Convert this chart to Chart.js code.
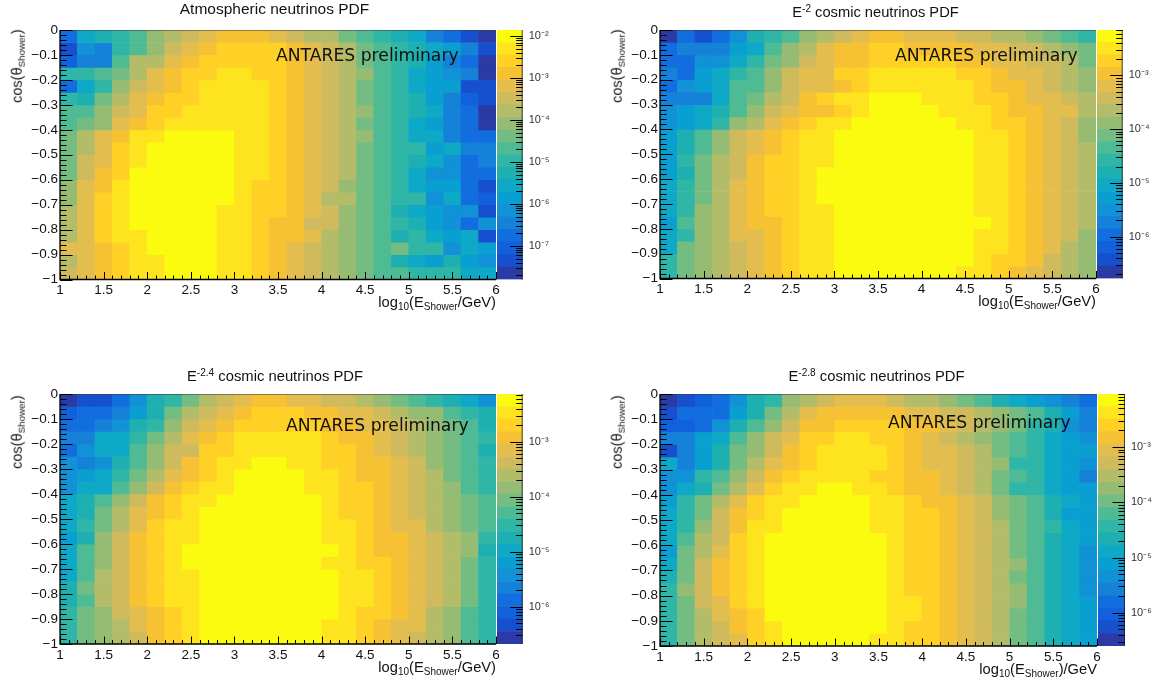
<!DOCTYPE html>
<html><head><meta charset="utf-8">
<script src="https://cdn.jsdelivr.net/npm/chart.js@4"></script>
<style>
html,body{margin:0;padding:0;background:#fff;overflow:hidden}
#page{position:relative;width:1158px;height:686px;font-family:"Liberation Sans",sans-serif;color:#111}
canvas{position:absolute}
.t{position:absolute;white-space:nowrap;line-height:1}
.s{font-size:.68em;vertical-align:-.32em;line-height:0}
.p{font-size:.68em;vertical-align:.5em;line-height:0}
.ant{font-family:"DejaVu Sans",sans-serif;font-size:17.2px;color:#111}
</style></head><body><div id="page"></div>
<script>
// Bin centres and top edges of the 25 x 20 histograms
const energyCentres=[1.1,1.3,1.5,1.7,1.9,2.1,2.3,2.5,2.7,2.9,3.1,3.3,3.5,3.7,3.9,4.1,4.3,4.5,4.7,4.9,5.1,5.3,5.5,5.7,5.9];
const cosTopEdges=[0,-0.05,-0.1,-0.15,-0.2,-0.25,-0.3,-0.35,-0.4,-0.45,-0.5,-0.55,-0.6,-0.65,-0.7,-0.75,-0.8,-0.85,-0.9,-0.95];
const cosBinWidth=0.05;
// Tick labels
const xTickValues=[1,1.5,2,2.5,3,3.5,4,4.5,5,5.5,6];
const yTickValues=[0,-0.1,-0.2,-0.3,-0.4,-0.5,-0.6,-0.7,-0.8,-0.9,-1];
// Colour bands, lowest to highest
const palette=['#2a3ba6','#1650ce','#1161dd','#126ede','#1681d8','#1191d6','#0a9fd1','#0da9c6','#1eb0b0','#2fb6a7','#4fbb95','#74bd82','#96bc74','#b3bc68','#cfbb5d','#e3be4f','#f6c133','#ffd026','#fde41f','#fbfb0f'];
// log10 colour-bar ranges [bottom, top] and decade labels
const zRangeAtm=[-7.8,-1.857], zRangeE20=[-6.78,-2.154], zRangeE24=[-6.68,-2.13], zRangeE28=[-6.6,-2.04];
const decadesAtm=[-2,-3,-4,-5,-6,-7], decadesE20=[-3,-4,-5,-6], decadesE24=[-3,-4,-5,-6], decadesE28=[-3,-4,-5,-6];
// Colour band read for every cell; rows run from cos=0 down to cos=-1, columns from log10E=1 to 6
const atmBands=[
[3,7,8,9,10,12,13,14,15,16,16,16,15,14,13,13,11,10,9,8,7,4,3,1,0],
[1,5,4,9,10,12,14,15,16,17,17,17,17,16,15,14,13,11,10,9,8,7,6,4,1],
[2,4,4,10,13,13,15,16,17,17,17,17,17,16,15,14,13,11,10,9,8,6,4,3,0],
[9,9,10,11,13,15,16,17,17,18,18,17,17,16,15,14,13,12,10,9,7,6,5,4,0],
[3,7,9,12,14,15,16,17,18,18,18,18,17,16,15,14,13,11,10,9,7,6,6,1,1],
[9,8,11,13,15,16,17,17,18,18,18,18,17,16,15,14,13,11,10,9,8,6,4,2,1],
[10,10,12,14,15,17,17,18,18,18,18,18,17,16,15,14,13,12,10,9,8,7,4,3,0],
[10,11,12,15,16,17,18,18,18,18,18,18,17,16,15,14,13,11,10,9,7,6,4,3,0],
[11,13,15,16,18,18,19,19,19,19,18,18,17,16,15,14,13,12,10,9,7,7,4,3,3],
[11,13,15,17,18,19,19,19,19,19,18,18,17,16,15,14,13,11,10,9,9,6,7,4,4],
[11,14,15,17,18,19,19,19,19,19,18,18,17,16,15,14,13,11,10,9,8,7,5,3,4],
[11,14,16,17,19,19,19,19,19,19,18,18,17,16,15,14,13,11,10,9,7,5,5,3,3],
[12,15,16,18,19,19,19,19,19,19,18,17,17,16,15,14,12,11,10,9,7,6,6,3,1],
[12,15,17,18,19,19,19,19,19,19,18,17,17,16,15,13,13,11,10,9,9,5,7,3,2],
[13,15,17,18,19,19,19,19,19,18,18,17,17,16,15,14,12,11,10,8,7,6,5,5,1],
[13,15,17,18,19,19,19,19,19,18,18,17,16,16,14,14,12,11,10,9,8,6,5,3,5],
[13,15,17,18,18,19,19,19,19,18,18,17,16,16,15,13,12,11,10,8,9,7,6,7,1],
[15,15,16,17,18,19,19,19,19,18,18,17,16,15,14,13,12,11,10,11,9,9,5,7,6],
[13,15,16,17,18,18,19,19,19,18,18,17,16,15,14,13,12,11,10,8,7,6,8,6,5],
[14,15,16,17,18,18,19,19,19,18,18,17,16,15,14,13,12,11,10,10,9,9,9,7,7]];
const e20Bands=[
[0,3,1,3,5,8,9,10,12,13,14,15,16,16,15,15,15,14,14,13,13,12,11,10,9],
[3,4,4,4,6,7,10,12,13,15,16,16,17,17,16,16,16,16,15,15,14,14,13,12,11],
[3,3,5,5,7,9,11,12,14,15,16,16,17,17,17,17,17,16,16,15,15,14,14,13,11],
[4,3,6,7,9,10,12,14,15,15,17,17,18,18,18,18,18,17,17,16,15,15,14,13,12],
[3,5,6,7,10,10,12,14,15,15,16,17,18,18,18,18,18,18,17,16,16,15,14,13,12],
[4,4,4,7,10,11,13,14,16,17,18,18,19,19,19,18,18,18,17,17,16,15,15,14,13],
[5,6,7,8,10,12,14,15,16,16,17,18,19,19,19,19,18,18,18,17,16,16,15,15,13],
[5,6,7,9,12,13,15,16,17,18,18,19,19,19,19,19,19,18,18,17,17,16,15,14,12],
[6,8,10,12,14,15,16,17,18,18,19,19,19,19,19,19,19,19,18,18,17,16,15,14,12],
[6,8,10,12,14,15,16,17,18,18,19,19,19,19,19,19,19,19,18,18,17,16,15,14,13],
[6,9,11,13,14,16,17,17,18,18,19,19,19,19,19,19,19,19,18,18,17,16,15,14,13],
[6,8,11,13,14,16,17,17,18,19,19,19,19,19,19,19,19,19,18,18,17,16,15,14,13],
[7,9,11,13,15,16,17,17,18,19,19,19,19,19,19,19,19,19,18,18,17,16,15,14,13],
[7,9,11,13,15,16,17,17,18,19,19,19,19,19,19,19,19,19,18,18,17,16,15,14,13],
[7,9,12,13,15,16,17,17,18,18,19,19,19,19,19,19,19,19,18,18,17,16,15,14,13],
[6,10,12,13,15,16,16,17,18,18,19,19,19,19,19,19,19,19,19,18,17,16,15,14,13],
[7,9,12,13,15,15,16,17,18,18,19,19,19,19,19,19,19,19,18,18,17,16,15,14,12],
[7,11,12,13,14,15,16,17,18,18,19,19,19,19,19,19,19,19,18,18,17,16,15,13,12],
[9,11,12,13,14,15,16,17,18,18,19,19,19,19,19,19,19,19,18,17,17,16,14,13,12],
[9,11,12,13,14,15,16,17,18,18,19,19,19,19,19,19,19,18,18,17,16,15,14,13,12]];
const e24Bands=[
[0,1,1,3,5,8,9,11,13,14,15,16,16,15,15,14,14,13,12,11,10,9,8,7,5],
[2,3,3,4,6,8,11,13,14,15,16,17,17,17,16,16,15,15,14,13,12,12,10,9,8],
[3,3,4,5,8,9,12,14,15,16,17,17,17,17,17,16,16,15,15,14,13,12,11,10,8],
[4,4,7,7,9,11,13,15,16,17,18,18,18,18,18,17,16,16,15,14,13,12,11,10,9],
[3,5,7,7,10,12,14,14,17,17,18,18,18,18,18,17,17,16,15,14,13,12,11,10,8],
[5,4,5,8,10,12,14,16,17,18,18,19,19,18,18,17,17,16,16,15,14,12,11,10,9],
[5,6,7,9,11,13,15,16,17,18,19,19,19,19,18,18,17,16,16,15,14,13,11,10,9],
[5,7,7,10,12,14,16,17,18,18,19,19,19,19,18,18,17,17,16,15,14,13,12,10,9],
[7,8,10,12,14,16,17,18,18,19,19,19,19,19,19,18,17,17,16,15,14,13,12,11,10],
[7,8,11,13,15,16,17,18,19,19,19,19,19,19,19,18,17,17,16,15,14,13,12,11,10],
[7,9,11,13,15,17,18,18,19,19,19,19,19,19,19,18,18,17,16,15,15,13,12,11,10],
[6,8,12,14,16,17,18,18,19,19,19,19,19,19,19,18,18,17,16,16,15,14,13,12,9],
[7,10,12,14,16,17,18,19,19,19,19,19,19,19,19,19,18,17,16,16,15,14,13,12,8],
[7,10,12,14,16,17,18,19,19,19,19,19,19,19,19,18,18,17,17,16,15,14,13,11,9],
[7,10,13,14,16,17,18,18,19,19,19,19,19,19,19,19,18,18,17,16,15,14,13,11,9],
[8,11,13,14,16,17,18,18,19,19,19,19,19,19,19,19,18,18,17,16,15,14,13,11,9],
[8,10,13,14,16,17,18,18,19,19,19,19,19,19,19,19,18,18,17,16,15,14,13,11,9],
[9,11,12,14,15,16,17,18,19,19,19,19,19,19,19,19,18,17,17,16,15,13,12,10,9],
[9,11,12,13,15,16,17,18,19,19,19,19,19,19,19,18,18,17,16,15,15,13,12,10,9],
[9,11,12,13,14,16,17,18,19,19,19,19,19,19,19,18,18,17,16,15,14,13,12,10,9]];
const e28Bands=[
[0,1,2,3,5,8,9,12,13,14,15,15,15,14,13,13,12,11,10,8,7,6,5,4,3],
[1,3,3,3,6,8,11,13,15,16,16,16,16,16,15,15,14,14,13,12,11,10,8,6,4],
[2,2,3,5,8,10,12,14,16,16,17,17,17,17,16,16,15,14,13,12,11,9,8,5,4],
[4,4,6,7,10,12,14,15,17,17,18,18,17,17,16,15,14,13,12,11,10,9,7,6,5],
[1,4,6,8,11,12,14,16,17,18,18,18,18,17,16,15,15,14,13,11,10,9,7,6,6],
[7,4,6,8,11,13,15,16,17,18,18,18,18,17,16,15,15,14,13,12,9,9,7,6,5],
[5,5,9,10,12,14,16,17,18,18,18,18,17,17,16,16,15,14,13,11,10,9,7,6,4],
[5,7,8,11,13,15,17,18,18,19,19,18,18,17,16,16,15,14,13,11,9,9,7,6,6],
[6,9,11,13,15,17,18,18,19,19,19,19,18,18,17,16,16,15,14,12,11,10,8,7,6],
[7,9,11,14,16,17,18,19,19,19,19,19,18,18,17,17,16,15,14,12,11,10,8,6,6],
[7,9,12,14,16,18,18,19,19,19,19,19,18,18,17,17,16,15,14,13,11,10,9,7,6],
[7,10,13,14,17,18,19,19,19,19,19,19,19,18,17,17,16,15,14,13,11,10,8,7,6],
[6,11,13,15,17,18,19,19,19,19,19,19,19,18,17,17,16,15,14,13,11,10,8,7,5],
[7,11,14,16,17,18,19,19,19,19,19,19,19,18,17,17,16,15,14,13,12,10,8,7,5],
[8,11,14,16,17,18,19,19,19,19,19,19,19,18,17,17,16,15,14,13,11,10,8,7,5],
[9,12,14,16,17,18,19,19,19,19,19,19,19,18,17,17,16,15,14,13,12,10,8,7,5],
[9,11,14,15,17,18,19,19,19,19,19,19,19,18,18,17,16,15,14,13,12,10,8,7,6],
[9,11,13,15,16,17,19,19,19,19,19,19,19,18,18,17,16,15,14,13,11,10,8,7,6],
[9,11,13,14,16,17,18,19,19,19,19,19,19,18,17,17,16,15,14,13,11,10,8,7,6],
[9,11,13,14,15,17,18,19,19,19,19,19,18,18,17,17,16,15,14,13,11,10,8,7,6]];

const xLog='log<span class="s">10</span>(E<span class="s">Shower</span>/GeV)';
const xLog2='log<span class="s">10</span>(E<span class="s">Shower</span>)/GeV';
const panels=[
 {bands:atmBands,z:zRangeAtm,dec:decadesAtm,box:[60,496,30,279.5],cb:[497,522.7],
  title:'Atmospheric neutrinos PDF',tc:[274.5,9],ts:15.5,ant:[276,56],xt:xLog,xty:302,yc:[17,66]},
 {bands:e20Bands,z:zRangeE20,dec:decadesE20,box:[660,1096,30,278.5],cb:[1097,1122.7],
  title:'E<span class="p">-2</span> cosmic neutrinos PDF',tc:[875.5,12],ts:14.7,ant:[895,56],xt:xLog,xty:301,yc:[617,66]},
 {bands:e24Bands,z:zRangeE24,dec:decadesE24,box:[60,496,394,644],cb:[497,522.7],
  title:'E<span class="p">-2.4</span> cosmic neutrinos PDF',tc:[275,376],ts:14.8,ant:[286,426],xt:xLog,xty:667,yc:[17,432]},
 {bands:e28Bands,z:zRangeE28,dec:decadesE28,box:[660,1097,394,646],cb:[1098,1125],
  title:'E<span class="p">-2.8</span> cosmic neutrinos PDF',tc:[876.5,376],ts:14.8,ant:[888,423],xt:xLog2,xty:669,yc:[617,432]}
];

const tickFont={family:'"Liberation Sans",sans-serif',size:13.5};
const fmtY=v=>{const r=Math.round(v*10)/10;return r===0?'0':(r===-1?'\u22121':'\u2212'+Math.abs(r).toFixed(1));};

const heatFrame={id:'heatFrame',afterDatasetsDraw(c){
  const g=c.ctx,a=c.chartArea,X=c.scales.x,Y=c.scales.y;g.save();
  g.strokeStyle='rgba(60,60,60,.55)';g.lineWidth=1;
  g.beginPath();g.moveTo(a.left,a.top+.5);g.lineTo(a.right,a.top+.5);g.stroke();
  g.strokeStyle='#000';
  g.beginPath();
  for(let i=0;i<=50;i++){const p=Math.round(X.getPixelForValue(1+i*.1))+.5,l=i%5===0?7.5:4;g.moveTo(p,a.bottom);g.lineTo(p,a.bottom-l);}
  for(let i=0;i<=50;i++){const p=Math.round(Y.getPixelForValue(-i*.02))+.5,l=i%5===0?12.5:6.5;g.moveTo(a.left,p);g.lineTo(a.left+l,p);}
  g.stroke();
  g.lineWidth=1.3;g.beginPath();g.moveTo(a.left,a.top);g.lineTo(a.left,a.bottom);g.lineTo(a.right,a.bottom);g.stroke();
  g.restore();}};

const barFrame={id:'barFrame',afterDatasetsDraw(c){
  const g=c.ctx,a=c.chartArea,Y=c.scales.y;g.save();g.strokeStyle='#000';g.lineWidth=1;g.beginPath();
  const lo=Math.floor(Math.log10(Y.min)),hi=Math.ceil(Math.log10(Y.max));
  for(let e=lo;e<=hi;e++)for(let m=1;m<10;m++){const v=m*Math.pow(10,e);if(v<Y.min||v>Y.max)continue;
    const p=Math.round(Y.getPixelForValue(v))+.5,l=m===1?12.5:6.5;g.moveTo(a.right,p);g.lineTo(a.right-l,p);}
  g.stroke();g.strokeStyle='rgba(30,30,30,.8)';g.beginPath();g.moveTo(a.right-.5,a.top);g.lineTo(a.right-.5,a.bottom);g.stroke();g.restore();}};

const page=document.getElementById('page');
function mk(l,t,w,h){const cv=document.createElement('canvas');cv.width=w;cv.height=h;cv.style.left=l+'px';cv.style.top=t+'px';cv.style.width=w+'px';cv.style.height=h+'px';page.appendChild(cv);return cv;}
function txt(html,cls,css){const d=document.createElement('div');d.className='t '+cls;d.innerHTML=html;d.style.cssText=css;page.appendChild(d);return d;}

panels.forEach(P=>{
  const [L,R,T,B]=P.box, [cl,cr]=P.cb, zlo=P.z[0], zhi=P.z[1];
  const frac=Math.round(B-T)-(B-T);
  // colour bar
  const padV=16,lab=40;
  const cb=mk(cl,T-padV,Math.ceil(cr-cl)+lab,Math.round(B-T)+2*padV);
  const bandSets=palette.map((col,i)=>({label:'band '+i,
     data:[[Math.pow(10,zlo+(zhi-zlo)*i/20),Math.pow(10,zlo+(zhi-zlo)*(i+1)/20)]],
     backgroundColor:col,borderWidth:0,grouped:false,barPercentage:1,categoryPercentage:1}));
  new Chart(cb,{type:'bar',data:{labels:['z'],datasets:bandSets},plugins:[barFrame],options:{
     responsive:false,animation:false,events:[],devicePixelRatio:1,
     layout:{padding:{top:padV,bottom:padV+frac}},
     plugins:{legend:{display:false},tooltip:{enabled:false},title:{display:false}},
     scales:{x:{display:false},
       y:{type:'logarithmic',position:'right',min:Math.pow(10,zlo),max:Math.pow(10,zhi),
          grid:{display:false,drawTicks:false},border:{display:false},
          afterBuildTicks:s=>{s.ticks=P.dec.map(e=>({value:Math.pow(10,e),major:true}));},
          afterFit:s=>{s.width=lab+Math.ceil(cr-cl)-(cr-cl);},
          ticks:{autoSkip:false,padding:6,color:'#333',font:{family:'"Liberation Sans",sans-serif',size:11},
            callback:v=>'10'+String(Math.round(Math.log10(v))).replace('-','\u207b').replace(/\d/g,d=>'\u2070\u00b9\u00b2\u00b3\u2074\u2075\u2076\u2077\u2078\u2079'[d])}}}}});
  // heat map: one floating-bar dataset per cos row
  const padL=60,padR=14,padT=12,padB=26;
  const hv=mk(L-padL,T-padT,Math.round(R-L)+padL+padR,Math.round(B-T)+padT+padB);
  const rows=P.bands.map((row,r)=>({label:'row '+r,
     data:row.map((b,i)=>({x:energyCentres[i],y:[cosTopEdges[r]-cosBinWidth,cosTopEdges[r]]})),
     backgroundColor:row.map(b=>palette[b]),borderWidth:0,grouped:false,barPercentage:1,categoryPercentage:1}));
  new Chart(hv,{type:'bar',data:{datasets:rows},plugins:[heatFrame],options:{
     responsive:false,animation:false,events:[],devicePixelRatio:1,
     layout:{padding:{top:padT,right:padR,bottom:frac}},
     plugins:{legend:{display:false},tooltip:{enabled:false},title:{display:false}},
     scales:{
       x:{type:'linear',offset:false,min:1,max:6,grid:{display:false,drawTicks:false,offset:false},border:{display:false},
          afterBuildTicks:s=>{s.ticks=xTickValues.map(v=>({value:v}));},
          afterFit:s=>{s.height=padB;},
          ticks:{autoSkip:false,maxRotation:0,padding:3,color:'#111',font:tickFont,callback:v=>String(v)}},
       y:{type:'linear',min:-1,max:0,grid:{display:false,drawTicks:false},border:{display:false},
          afterBuildTicks:s=>{s.ticks=yTickValues.map(v=>({value:v}));},
          afterFit:s=>{s.width=padL;},
          ticks:{autoSkip:false,padding:2,color:'#111',font:tickFont,callback:fmtY}}}}});
  // annotations
  txt(P.title,'',`left:${P.tc[0]}px;top:${P.tc[1]}px;font-size:${P.ts}px;transform:translate(-50%,-50%)`);
  txt('ANTARES preliminary','ant',`left:${P.ant[0]}px;top:${P.ant[1]}px;transform:translateY(-50%)`);
  txt(P.xt,'',`right:${1158-R}px;top:${P.xty}px;font-size:14.7px;transform:translateY(-50%)`);
  txt('cos(\u03b8<span class="s">Shower</span>)','',`left:${P.yc[0]}px;top:${P.yc[1]}px;font-size:14.5px;transform:translate(-50%,-50%) rotate(-90deg)`);
});
</script></body></html>
